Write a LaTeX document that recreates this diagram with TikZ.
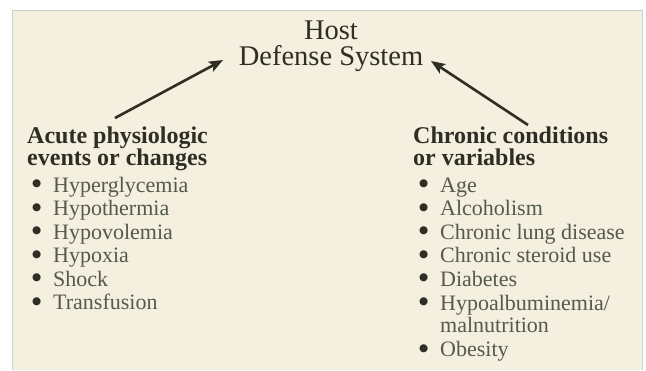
\documentclass[tikz,border=0pt]{standalone}
\usepackage{fontspec}
\setmainfont{Liberation Serif}
\newfontfamily\symbolfont{DejaVu Sans}
\usetikzlibrary{arrows.meta}

\definecolor{paper}{RGB}{244,239,222}
\definecolor{frameline}{RGB}{205,205,205}
\definecolor{ink}{RGB}{46,46,38}
\definecolor{itemink}{RGB}{84,90,76}

\newcommand{\bul}{\makebox[21pt][l]{\textcolor{ink}{\symbolfont\fontsize{10.5}{10.5}\selectfont\raisebox{5.5pt}{●}}}}

\tikzset{
  title/.style={font=\fontsize{28.5}{26}\selectfont, text=ink, align=center, anchor=base, inner sep=0pt},
  head/.style={font=\fontsize{24}{22}\selectfont\bfseries, text=ink, align=left, anchor=base west, inner sep=0pt},
  entry/.style={font=\fontsize{22}{22.5}\selectfont, text=itemink, align=left, anchor=base west, inner sep=0pt},
  oneline/.style={text height=15pt, text depth=5pt},
  arr/.style={-{Stealth[length=14pt,width=11pt,inset=3pt]}, line width=2.6pt, draw=ink}
}

\begin{document}
\begin{tikzpicture}[x=1pt,y=-1pt]
   \useasboundingbox (0,0) rectangle (646,370);
   \fill[paper] (12.5,10.5) rectangle (642.5,370);
   \draw[frameline] (12.5,370) -- (12.5,10.5) -- (642.5,10.5) -- (642.5,370);

   % multi-line nodes sit on the baseline of their last line
   \node[title] (host) at (331,65) {Host\\Defense System};
   \node[head] (acute) at (27,165) {Acute physiologic\\events or changes};
   \node[head] (chronic) at (413,165) {Chronic conditions\\or variables};

   \begin{scope}[every node/.style={entry,oneline}]
    \node (hyperglycemia) at (32,192) {\bul Hyperglycemia};
    \node (hypothermia)   at (32,215.5) {\bul Hypothermia};
    \node (hypovolemia)   at (32,239) {\bul Hypovolemia};
    \node (hypoxia)       at (32,262.5) {\bul Hypoxia};
    \node (shock)         at (32,286) {\bul Shock};
    \node (transfusion)   at (32,309.5) {\bul Transfusion};
    \node (age)           at (419,192) {\bul Age};
    \node (alcoholism)    at (419,215.5) {\bul Alcoholism};
    \node (lung)          at (419,239) {\bul Chronic lung disease};
    \node (steroid)       at (419,262.5) {\bul Chronic steroid use};
    \node (diabetes)      at (419,286) {\bul Diabetes};
    \node (obesity)       at (419,356.5) {\bul Obesity};
   \end{scope}
   \node[entry] (albumin) at (419,332.5) {\bul Hypoalbuminemia/\\\hspace*{21pt}malnutrition};

   \coordinate (acutetail) at (115,118);
   \coordinate (hostleft) at (223,60);
   \coordinate (chronictail) at (528,125);
   \coordinate (hostright) at (431,61);
   \draw[arr] (acutetail) -- (hostleft);
   \draw[arr] (chronictail) -- (hostright);
\end{tikzpicture}
\end{document}
